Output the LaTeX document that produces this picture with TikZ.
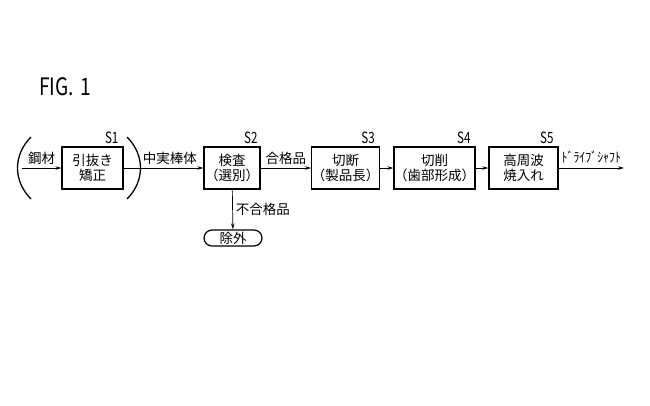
\documentclass[tikz,border=0pt]{standalone}
\usepackage{fontspec}
\setmainfont{Noto Sans CJK JP}
\usetikzlibrary{arrows.meta}

\newcommand{\etroit}[1]{\scalebox{0.75}[1]{#1}}

\tikzset{
  etape/.style={draw, line width=1.3pt, minimum height=42pt, inner sep=0pt,
    align=center, font=\fontsize{13.5}{14.5}\selectfont},
  sortie/.style={draw, line width=1.2pt, rounded corners=8pt, minimum width=58pt,
    minimum height=16pt, inner sep=0pt, font=\fontsize{13.5}{14}\selectfont},
  numero/.style={anchor=south east, inner sep=0pt, font=\fontsize{15.5}{15.5}\selectfont},
  lien/.style={line width=0.7pt, ->, >={Stealth[length=6pt,width=3.5pt]}},
  texte/.style={inner sep=1pt, font=\fontsize{13.5}{14}\selectfont},
  parenthese/.style={line width=1.3pt},
}

\begin{document}
\begin{tikzpicture}[x=1pt, y=-1pt]
 \useasboundingbox (0,0) rectangle (650,405);

	% Titre
 \node[anchor=west, inner sep=0pt, font=\fontsize{24}{24}\selectfont] (fig) at (39,87) {\scalebox{0.8}[1]{FIG.\,\,1}};

	% Etapes
 \node[etape, minimum width=61pt] (S1) at (92.5,168) {引抜き\\矯正};
 \node[etape, minimum width=56pt] (S2) at (232,168) {検査\\（選別）};
 \node[etape, minimum width=65pt] (S3) at (345.5,168) {切断\\（製品長）};
 \node[etape, minimum width=65pt] (S4) at (434.5,168) {切削\\（歯部形成）};
 \node[etape, minimum width=69pt] (S5) at (523.5,168) {高周波\\焼入れ};
 \node[sortie] (rebut) at (233,238) {除外};

	% Numeros
 \node[numero] (n1) at ([shift={(-5,-2)}]S1.north east) {\etroit{S1}};
 \node[numero] (n2) at ([shift={(-3,-2)}]S2.north east) {\etroit{S2}};
 \node[numero] (n3) at ([shift={(-5,-2)}]S3.north east) {\etroit{S3}};
 \node[numero] (n4) at ([shift={(-5,-2)}]S4.north east) {\etroit{S4}};
 \node[numero] (n5) at ([shift={(-5,-2)}]S5.north east) {\etroit{S5}};

	% Parentheses
 \draw[parenthese] (31,137) .. controls (13,155) and (13,181) .. (31,199);
 \draw[parenthese] (127,137) .. controls (145,155) and (145,181) .. (127,199);

	% Liaisons
 \coordinate (entree) at (22,168);
 \coordinate (fin) at (624,168);
 \draw[lien] (entree)--(S1) node[midway, above, texte, yshift=2pt]{鋼材};
 \draw[lien] (S1)--(S2) node[pos=0.58, above, texte, yshift=2pt]{中実棒体};
 \draw[lien] (S2)--(S3) node[midway, above, texte, yshift=2pt]{合格品};
 \draw[lien] (S3)--(S4);
 \draw[lien] (S4)--(S5);
 \draw[lien] (S5)--(fin) node[midway, above, texte, yshift=3pt]{\scalebox{0.88}[1]{ﾄﾞﾗｲﾌﾞｼｬﾌﾄ}};
 \draw[lien] (S2)--(rebut) node[midway, right, texte, xshift=2pt]{不合格品};

\end{tikzpicture}
\end{document}
